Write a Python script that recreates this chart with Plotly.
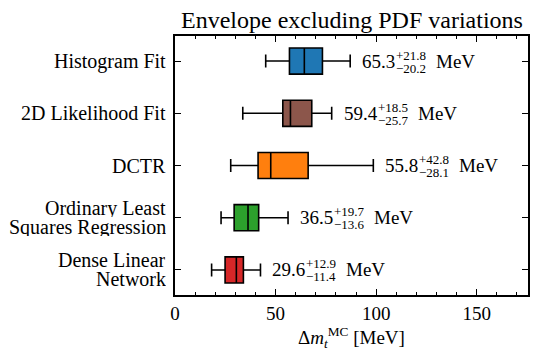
import plotly.graph_objects as go

# categories, top to bottom (each label split into its printed lines)
methods = ["Histogram Fit", "2D Likelihood Fit", "DCTR",
           "Ordinary Least Squares Regression", "Dense Linear Network"]
label_lines = [["Histogram Fit"], ["2D Likelihood Fit"], ["DCTR"],
               ["Ordinary Least", "Squares Regression"], ["Dense Linear", "Network"]]
colors = ["#1f77b4", "#8c564b", "#ff7f0e", "#2ca02c", "#d62728"]

# box statistics [MeV]
lower = [45.1, 33.7, 27.7, 22.9, 18.2]
q1 = [56.9, 53.6, 41.3, 29.4, 24.9]
median = [64.3, 57.4, 47.6, 36.3, 30.5]
q3 = [73.3, 68.0, 66.2, 41.6, 34.0]
upper = [87.1, 77.9, 98.6, 56.2, 42.5]

# quoted central values and envelopes
central = ["65.3", "59.4", "55.8", "36.5", "29.6"]
err_up = ["+21.8", "+18.5", "+42.8", "+19.7", "+12.9"]
err_dn = ["−20.2", "−25.7", "−28.1", "−13.6", "−11.4"]

FONT = "Liberation Serif"
BIG = 20
SMALL = 13

fig = go.Figure()
for i, m in enumerate(methods):
    fig.add_trace(go.Box(
        y=[m], q1=[q1[i]], median=[median[i]], q3=[q3[i]],
        lowerfence=[lower[i]], upperfence=[upper[i]],
        orientation="h", width=0.5, whiskerwidth=0.5,
        fillcolor=colors[i], line=dict(color="black", width=1.6),
        boxpoints=False, showlegend=False, hoverinfo="x"))

    # "65.3^{+21.8}_{-20.2} MeV" built from pieces
    fig.add_annotation(x=upper[i], y=m, text=central[i], showarrow=False,
                       xanchor="left", xshift=10, font=dict(size=19))
    fig.add_annotation(x=upper[i], y=m, text=err_up[i], showarrow=False,
                       xanchor="left", xshift=44, yshift=6.5, height=12,
                       font=dict(size=SMALL))
    fig.add_annotation(x=upper[i], y=m, text=err_dn[i], showarrow=False,
                       xanchor="left", xshift=44, yshift=-6.5, height=12,
                       font=dict(size=SMALL))
    fig.add_annotation(x=upper[i], y=m, text="MeV", showarrow=False,
                       xanchor="left", xshift=84, font=dict(size=19))

    # category label, right aligned left of the axis, tight line spacing
    n = len(label_lines[i])
    for j, line in enumerate(label_lines[i]):
        fig.add_annotation(x=0, xref="paper", y=m, text=line, showarrow=False,
                           xanchor="right", xshift=-7, height=18 if n > 1 else None,
                           yshift=(n - 1) * 9.5 - j * 19, font=dict(size=BIG))

axis_style = dict(showline=True, linecolor="black", linewidth=1.5, mirror="allticks",
                  ticks="inside", tickcolor="black", tickwidth=1.2, ticklen=6,
                  showgrid=False, zeroline=False, automargin=False)

# the page body adds an 8px offset, margins are set so the plot lands
# at x 175..528, y 36..295 of the window
fig.update_layout(
    width=540, height=359,
    margin=dict(l=167, r=20, t=28, b=72),
    paper_bgcolor="white", plot_bgcolor="white",
    font=dict(family=FONT, size=BIG, color="black"),
    title=dict(text="Envelope excluding PDF variations", x=0.637, xanchor="center",
               y=0.967, yanchor="middle", font=dict(size=24)),
    xaxis=dict(range=[0, 175.5], tickvals=[0, 50, 100, 150],
               tickfont=dict(size=19),
               minor=dict(ticks="inside", dtick=10, ticklen=3, tickcolor="black"),
               title=dict(text="Δ<i>m</i><sub><i>t</i></sub><sup>MC</sup> [MeV]",
                          standoff=4, font=dict(size=19)),
               **axis_style),
    yaxis=dict(categoryorder="array", categoryarray=methods, range=[4.48, -0.48],
               showticklabels=False, **axis_style),
)

fig.write_html("out.html")
